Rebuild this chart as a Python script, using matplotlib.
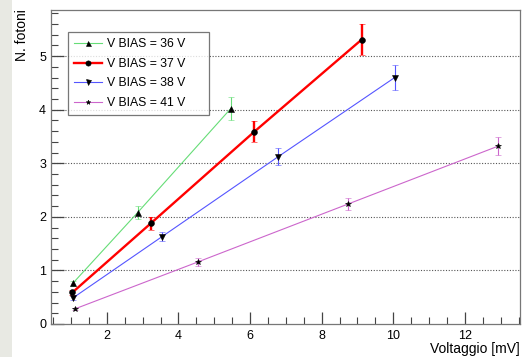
import matplotlib
matplotlib.use("Agg")
import matplotlib.pyplot as plt
from matplotlib.lines import Line2D
from matplotlib.ticker import MultipleLocator

plt.rcParams['font.family'] = ['Liberation Sans', 'DejaVu Sans']

# Measured photon counts vs. signal amplitude for each bias voltage
x_36 = [1.05, 2.86, 5.46]
y_36 = [0.76, 2.08, 4.02]
e_36 = [0.05, 0.12, 0.22]

x_37 = [1.04, 3.23, 6.12, 9.12]
y_37 = [0.59, 1.88, 3.59, 5.31]
e_37 = [0.04, 0.12, 0.20, 0.29]

x_38 = [1.05, 3.54, 6.78, 10.04]
y_38 = [0.485, 1.63, 3.12, 4.60]
e_38 = [0.03, 0.09, 0.16, 0.24]

x_41 = [1.10, 4.55, 8.74, 12.93]
y_41 = [0.28, 1.16, 2.24, 3.32]
e_41 = [0.02, 0.07, 0.12, 0.17]

labels = ["V BIAS = 36 V", "V BIAS = 37 V", "V BIAS = 38 V", "V BIAS = 41 V"]

fig = plt.figure(figsize=(5.22, 3.57), dpi=100)
fig.patch.set_facecolor("white")
# light gray strip on the left edge
fig.add_artist(plt.Rectangle((0, 0), 12 / 522, 1, transform=fig.transFigure,
                             facecolor="#e8e9e3", edgecolor="none", zorder=0))

ax = fig.add_axes([51 / 522, 33 / 357, 469 / 522, 314.5 / 357])

series = [
    (x_36, y_36, e_36, "#66dd77", "^", 4.0, 0.8),
    (x_37, y_37, e_37, "#ff0000", "o", 4.2, 1.7),
    (x_38, y_38, e_38, "#5555ff", "v", 4.0, 0.8),
    (x_41, y_41, e_41, "#cc66cc", "*", 3.8, 0.8),
]
handles = []
for (xs, ys, es, col, mk, ms, lw), lab in zip(series, labels):
    ax.errorbar(xs, ys, yerr=es, color=col, lw=lw, elinewidth=lw, capsize=2,
                capthick=lw, marker=mk, ms=ms, mfc="black", mec="black",
                mew=0.4, zorder=3)
    handles.append(Line2D([], [], color=col, lw=lw, marker=mk, ms=ms * 0.9,
                          mfc="black", mec="black", mew=0.4, label=lab))

ax.set_xlim(0.44, 13.54)
ax.set_ylim(0, 5.87)

for yv in [1, 2, 3, 4, 5]:
    ax.axhline(yv, color="#555555", lw=0.8, ls=(0, (1, 1.5)), zorder=1)

ax.xaxis.set_major_locator(MultipleLocator(2))
ax.xaxis.set_minor_locator(MultipleLocator(0.5))
ax.yaxis.set_major_locator(MultipleLocator(1))
ax.yaxis.set_minor_locator(MultipleLocator(0.2))
ax.tick_params(which="both", direction="in", top=False, right=False,
               color="#444444", labelsize=9)
ax.tick_params(which="major", length=9, width=0.9)
ax.tick_params(which="minor", length=5, width=0.8)
ax.tick_params(axis="x", pad=4)

for s in ax.spines.values():
    s.set_color("#777777")
    s.set_linewidth(0.9)

ax.set_xlabel("Voltaggio [mV]", fontsize=10, loc="right")
ax.xaxis.set_label_coords(1.0, -0.056)
ax.set_ylabel("N. fotoni", fontsize=10, loc="top")
ax.yaxis.set_label_coords(-0.047, 1.0)

leg = ax.legend(handles=handles, loc="upper left",
                bbox_to_anchor=(0.036, 0.684, 0.301, 0.244), mode="expand",
                fontsize=8.8, frameon=True, fancybox=False,
                edgecolor="#555555", handlelength=2.3, borderpad=0.5,
                labelspacing=0.62, handletextpad=0.4, borderaxespad=0)
leg.get_frame().set_linewidth(0.9)

fig.savefig("out.png", dpi=100)
